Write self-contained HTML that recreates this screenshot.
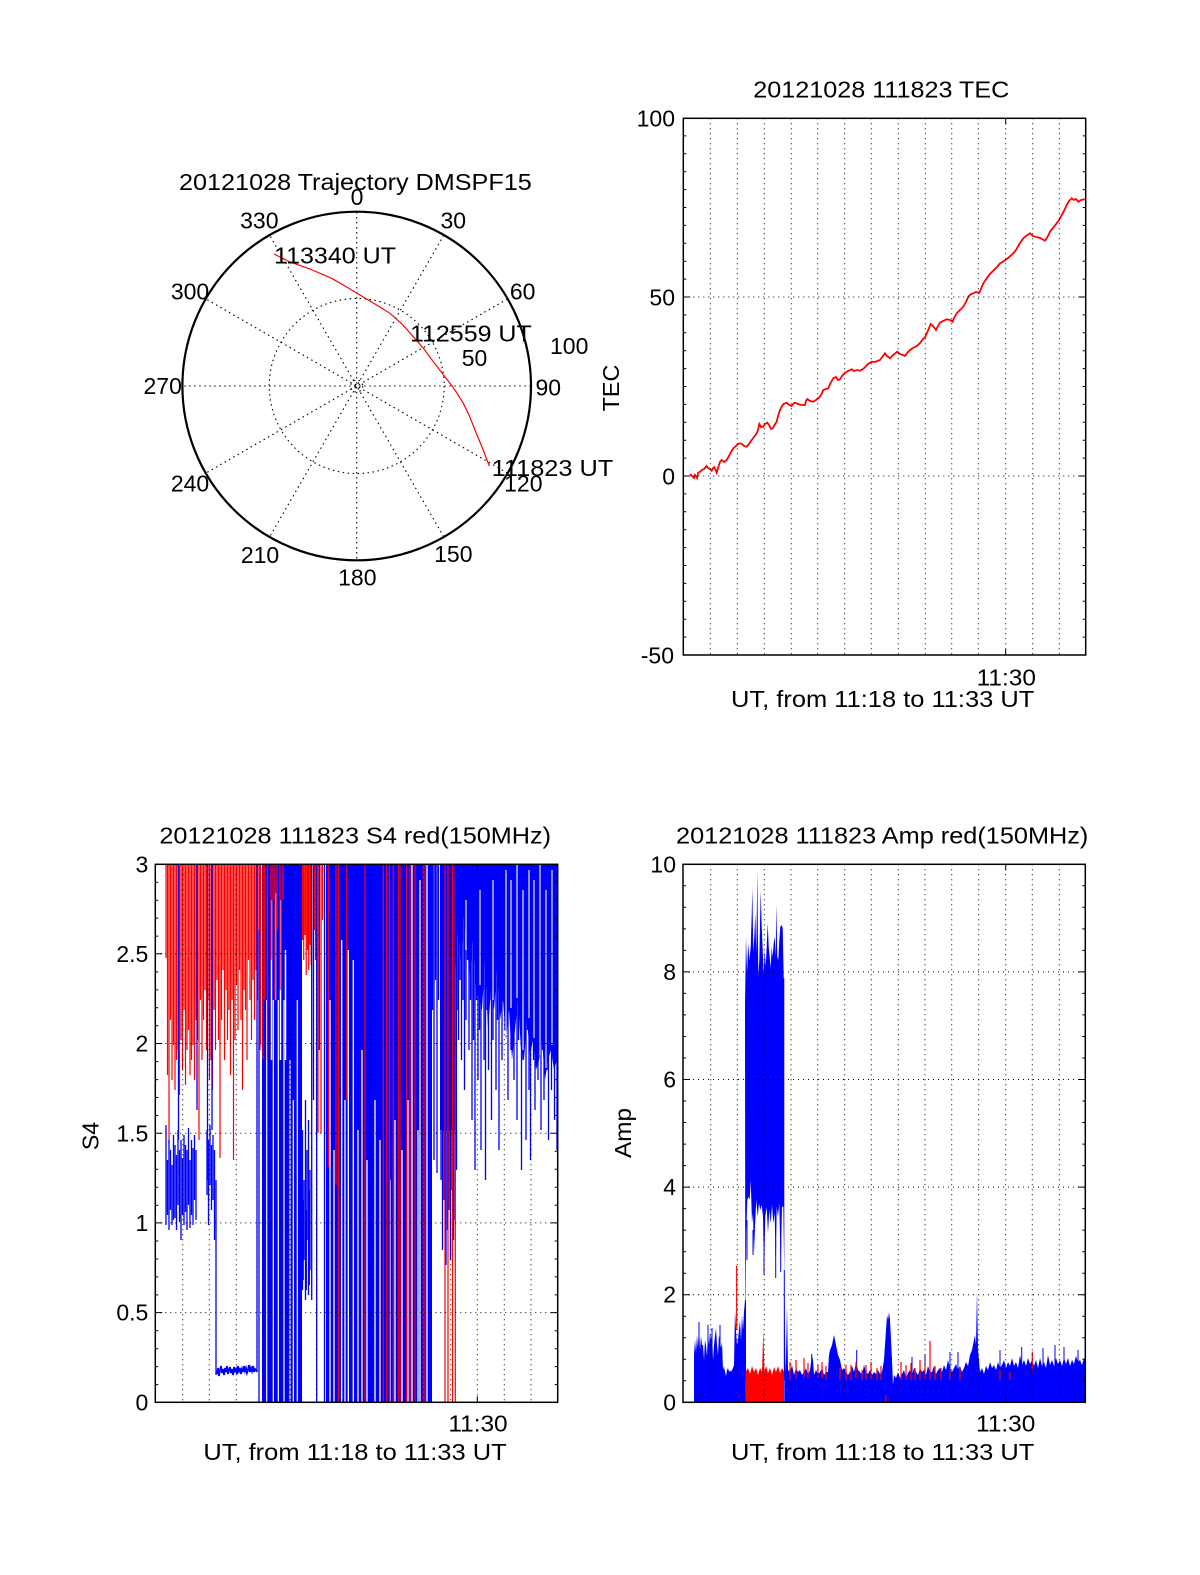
<!DOCTYPE html>
<html><head><meta charset="utf-8"><style>
html,body{margin:0;padding:0;background:#fff;}
svg{display:block;}
text{font-family:"Liberation Sans",Arial,sans-serif;font-size:23px;fill:#000;}
</style></head><body>
<svg width="1200" height="1575" viewBox="0 0 1200 1575" xmlns="http://www.w3.org/2000/svg">
<rect width="1200" height="1575" fill="#fff"/>
<defs>
<clipPath id="cS4"><rect x="155.3" y="864.3" width="402.4" height="538"/></clipPath>
<clipPath id="cAmp"><rect x="683" y="864.3" width="402.3" height="538"/></clipPath>
<clipPath id="cTEC"><rect x="683.3" y="118.3" width="402.4" height="536.7"/></clipPath>
</defs>

<!-- ============ POLAR ============ -->
<g fill="none" stroke="#000" stroke-width="1.1" stroke-dasharray="1.5 3.5">
<path d="M356.7 212V560M443.7 235.3L269.7 536.7M507.4 299L206 473M530.7 386H182.7M507.4 473L206 299M443.7 536.7L269.7 235.3"/>
<circle cx="356.7" cy="386" r="87.5"/>
<circle cx="356.7" cy="386" r="6"/>
</g>
<circle cx="356.7" cy="386" r="174.3" fill="none" stroke="#000" stroke-width="2.2"/>
<polyline fill="none" stroke="#f00" stroke-width="1.2" points="274,254 290,262 310,269 331.7,278.3 345,286 360,295 375,304 390,313.3 402,324 413.3,336.7 424,349 433.3,361.7 442,373 450,383.3 457,393 463.3,403.3 469,415 475,430 482,447 489.3,466"/>
<text x="355.4" y="190" text-anchor="middle" textLength="352.7" lengthAdjust="spacingAndGlyphs">20121028 Trajectory DMSPF15</text>
<g text-anchor="middle">
<text x="357" y="205">0</text>
<text x="453.3" y="228.7">30</text>
<text x="522.7" y="299.7">60</text>
<text x="548.3" y="395.3">90</text>
<text x="523.3" y="491.3">120</text>
<text x="453.3" y="562">150</text>
<text x="357.3" y="585.3">180</text>
<text x="260" y="563">210</text>
<text x="190" y="491.3">240</text>
<text x="162.7" y="394">270</text>
<text x="190" y="299.7">300</text>
<text x="259.3" y="228.7">330</text>
</g>
<text x="274" y="263.3" textLength="122" lengthAdjust="spacingAndGlyphs">113340 UT</text>
<text x="410" y="341.7" textLength="121.7" lengthAdjust="spacingAndGlyphs">112559 UT</text>
<text x="491.7" y="476" textLength="121.6" lengthAdjust="spacingAndGlyphs">111823 UT</text>
<text x="461.7" y="366">50</text>
<text x="550" y="354">100</text>

<!-- ============ TEC ============ -->
<g clip-path="url(#cTEC)">
<polyline fill="none" stroke="#f00" stroke-width="1.8" points="690,474 692,476 694,478 695,475 697,478 698,473 700,471.7 702,470 704,469 706.7,466 708,468 710,469 711.7,470.7 713,468 714.3,467.3 715.5,470 716.7,472.7 718,468 720,462 721.7,460 724,462 726.7,460 729,456 731,452 733.3,448.3 736,446 738,444 740,443.3 742,444 744,446 746.7,446.7 749,444 751.7,440 754,437 756.7,433.3 758,430 759.3,424 761,427 763.3,426.7 765,424 767.3,422.7 769,425 771,429 772.7,428.3 774.5,425 776.7,421.7 778,416 780,410 781.7,406.7 783.5,404 786.7,402.7 789,405 791.7,406 793,404 795,402.7 798,404 801,405 805,405 806,401 807.3,399 810,401 813.3,401.7 816,400 820,396.7 822,393 823.3,390 826,389 828.3,388.3 830,384 833.3,378.3 836,377 838,380 840,379.3 842,376 845,372.7 848,371 851.7,369.3 854,371 857,370 860,370.7 863,369 865,367.3 868,364 871.7,361.7 875,362 880,360 883,356 885,353.3 887,356 890,358.3 893,355 897.3,351.7 900,354 903,355 905,356 908,352 910,350 913,348 916.7,346 920,343 923,339 925,337.3 927,333 930.7,324 933,326 936,330 938,326 940,322.7 943,321 946.7,319.3 950,320 952.7,321.7 954,318 956.7,313.3 960,310 963.3,306.7 966,302 968.3,296.7 971,294 973.3,293.3 976,292 979.3,292.7 981,289 983.3,283.3 986.7,278.3 990,274 994,270 997,267 1000,263.3 1004,261 1008,258 1013.3,253.3 1016,250 1020,243 1023.3,238.3 1026,236 1030,233.3 1033,236 1035,236.7 1040,238 1045,240.7 1048,236 1050,231.7 1053,228 1056.7,223.3 1059,220 1061.7,215 1064,211 1066.7,205 1069,201 1071.7,198.3 1074,200 1076,199 1078.3,201.7 1081,200 1085,199.3"/>
</g>
<g fill="none" stroke="#000" stroke-width="1" stroke-dasharray="1 4">
<path d="M710.3 118.3V655M737.3 118.3V655M764.3 118.3V655M791.3 118.3V655M817.7 118.3V655M844.7 118.3V655M871.3 118.3V655M898.3 118.3V655M925.3 118.3V655M951.7 118.3V655M978.3 118.3V655M1005.7 118.3V655M1032.7 118.3V655M1059.3 118.3V655M683.3 297H1085.7M683.3 476H1085.7"/>
</g>
<g fill="none" stroke="#000" stroke-width="1">
<path d="M683.3 135.9h3M683.3 153.8h3M683.3 171.7h3M683.3 189.6h3M683.3 207.5h3M683.3 225.4h3M683.3 243.3h3M683.3 261.2h3M683.3 279.1h3M683.3 297h7M683.3 314.9h3M683.3 332.8h3M683.3 350.7h3M683.3 368.6h3M683.3 386.5h3M683.3 404.4h3M683.3 422.3h3M683.3 440.2h3M683.3 458.1h3M683.3 476h7M683.3 493.9h3M683.3 511.8h3M683.3 529.7h3M683.3 547.6h3M683.3 565.5h3M683.3 583.4h3M683.3 601.3h3M683.3 619.2h3M683.3 637.1h3"/>
<path d="M1085.7 135.9h-3M1085.7 153.8h-3M1085.7 171.7h-3M1085.7 189.6h-3M1085.7 207.5h-3M1085.7 225.4h-3M1085.7 243.3h-3M1085.7 261.2h-3M1085.7 279.1h-3M1085.7 297h-7M1085.7 314.9h-3M1085.7 332.8h-3M1085.7 350.7h-3M1085.7 368.6h-3M1085.7 386.5h-3M1085.7 404.4h-3M1085.7 422.3h-3M1085.7 440.2h-3M1085.7 458.1h-3M1085.7 476h-7M1085.7 493.9h-3M1085.7 511.8h-3M1085.7 529.7h-3M1085.7 547.6h-3M1085.7 565.5h-3M1085.7 583.4h-3M1085.7 601.3h-3M1085.7 619.2h-3M1085.7 637.1h-3"/>
<path d="M1005.7 118.3v6M1005.7 655v-6"/>
</g>
<rect x="683.3" y="118.3" width="402.4" height="536.7" fill="none" stroke="#000" stroke-width="1.5"/>
<text x="881.3" y="97.3" text-anchor="middle" textLength="256" lengthAdjust="spacingAndGlyphs">20121028 111823 TEC</text>
<g text-anchor="end">
<text x="675" y="126.5">100</text>
<text x="675" y="305.5">50</text>
<text x="675" y="484.5">0</text>
<text x="674" y="663.5">-50</text>
</g>
<text x="1006.3" y="685.5" text-anchor="middle" textLength="59.3" lengthAdjust="spacingAndGlyphs">11:30</text>
<text x="882.7" y="707" text-anchor="middle" textLength="303.3" lengthAdjust="spacingAndGlyphs">UT, from 11:18 to 11:33 UT</text>
<text transform="translate(619,388) rotate(-90)" text-anchor="middle" textLength="46.7" lengthAdjust="spacingAndGlyphs">TEC</text>

<!-- ============ S4 ============ -->
<g clip-path="url(#cS4)" fill="none">
<path stroke="#f00" stroke-width="1.2" d="M166 864V958M167.5 864V1075M169 864V1143M170.5 864V1020M172 864V1080M173.5 864V1045M175 864V1090M176.5 864V1060M178 864V1050M179.5 864V1095M181 864V1040M182.5 864V1070M184 864V1010M185.5 864V1085M187 864V1050M188.5 864V1030M190 864V1075M191.5 864V1060M193 864V1045M194.5 864V1080M196 864V1020M197.5 864V1040M199 864V1140M200.5 864V1000M202 864V1060M203.5 864V1020M205 864V990M206.5 864V1050M208 864V1000M209.5 864V1080M211 864V1060M212.5 864V1090M214 864V1010M215.5 864V1050M217 864V980M218.5 864V1040M220 864V1158M221.5 864V1020M223 864V970M224.5 864V1060M226 864V990M227.5 864V1040M229 864V1010M230.5 864V1075M232 864V1000M233.5 864V1160M235 864V1040M236.5 864V985M238 864V1030M239.5 864V970M241 864V1020M242.5 864V1090M244 864V990M245.5 864V1010M247 864V1060M248.5 864V960M250 864V1000M251.5 864V1040M253 864V980M254.5 864V1020M256 864V970M257.5 864V1000M259 864V990M260.5 864V1043"/>
<path stroke="#00f" stroke-width="1.3" d="M178.5 864V1140M197 864V1110M207.5 864V1180M212 864V1130"/>
<path stroke="#00f" stroke-width="1.3" d="M166 1125V1225M167.5 1160V1215M169 1140V1230M170.5 1150V1210M172 1165V1225M173.5 1135V1220M175 1145V1218M176.5 1155V1230M178 1130V1205M179.5 1150V1222M181 1140V1240M182.5 1158V1215M184 1135V1225M185.5 1145V1212M187 1150V1230M188.5 1128V1205M190 1160V1228M191.5 1140V1215M193 1148V1225M194.5 1135V1200M196 1150V1220M207 1130V1195M208.5 1140V1225M210 1125V1185M211.5 1145V1210M213 1135V1200M214.5 1150V1240M216 1180V1375"/>
<polyline stroke="#00f" stroke-width="1.8" points="217,1374 218,1368 219,1376 220,1370 221,1366 222,1373 223,1369 224,1375 225,1368 226,1372 227,1366 228,1374 229,1370 230,1367 231,1373 232,1369 233,1375 234,1367 235,1371 236,1369 237,1374 238,1366 239,1371 240,1368 241,1374 242,1369 243,1372 244,1366 245,1371 246,1368 247,1373 248,1370 249,1365 250,1372 251,1368 252,1371 253,1366 254,1372 255,1369 256,1370 257,1372"/>
<path stroke="#00f" stroke-width="1.3" d="M257 864V1372M259 930V1402"/>
<rect x="262" y="864.3" width="40" height="538" fill="#00f"/>
<path stroke="#fff" stroke-width="1.2" d="M266.7 1000V1402M273.3 1000V1402M278.3 1000V1402M284 1000V1402M290 1060V1402M293.3 1100V1402M297.3 1000V1402"/>
<path stroke="#fff" stroke-width="1.5" d="M271.5 900V1060M275.5 893V1000M280.5 900V1060M285.5 950V1060"/>
<path stroke="#f00" stroke-width="1.3" d="M260 864V1050M263 864V1060M264.5 864V1000M267.5 864V1060M271 864V960M273 864V900M275 864V1000M277 864V930M280 864V990M283 864V900"/>
<path stroke="#f00" stroke-width="1.2" d="M302.5 864V940M303.7 864V960M305 864V935M306.2 864V975M307.5 864V950M308.7 864V970M310 864V945M311.2 864V965"/>
<path stroke="#00f" stroke-width="1.3" d="M302.5 1130V1290M303.2 1200V1280M304 1180V1260M305.5 1100V1300M306.3 1210V1290M307 1150V1240M308.5 1120V1295M309.3 1190V1285M310 1170V1270M311.7 864V1300"/>
<path stroke="#00f" stroke-width="1.3" d="M316.7 864V1402M313.5 864V1100M319.3 864V1050M324.5 864V1402"/>
<path stroke="#f00" stroke-width="1.2" d="M314.5 864V930M315.5 864V960M318 864V1133M321 864V1133M322.5 864V920"/>
<rect x="326" y="864.3" width="106" height="538" fill="#00f"/>
<path stroke="#fff" stroke-width="1.3" d="M330 1000V1402M334 1150V1402M341.7 940V1402M345 1100V1402M348.3 950V1402M353.3 960V1402M358 1130V1402M362 1050V1402M367 1160V1402M375 1100V1402M380 1140V1402M390 1180V1402M395 1120V1402M402 1150V1402M408 1100V1402M412 864V1402M418 1130V1402M420 880V1402M427 864V1402"/>
<path stroke="#f00" stroke-width="1.2" d="M328.3 864V1167M336 864V1185M338.3 864V1402M346.7 864V1100M365 864V1402M383.3 864V1402M386.7 864V1402M389.5 864V1402M393.3 864V1402M398.3 864V1402M400 864V1402M406.7 864V1402M410 864V1402M415 864V1402M423.3 864V1402M425 864V1402"/>
<path stroke="#00f" stroke-width="1.3" d="M432.5 864V1010M434 864V1160M435.5 864V980M437 864V1173M438.5 864V1000"/>
<rect x="440" y="864.3" width="17" height="266" fill="#00f"/>
<path stroke="#00f" stroke-width="1.3" d="M441 1130V1180M442.5 1130V1250M444 1130V1200M446 1130V1265M447.5 1130V1230M449 1130V1210M450.5 1130V1260M452 1130V1190M453.5 1130V1240M455 1130V1220M456.5 1130V1170"/>
<path stroke="#f00" stroke-width="1.2" d="M445 864V1402M448 864V1402M452.5 864V1402M455.3 864V1402"/>
<!-- J -->
<polygon fill="#00f" points="455,864.3 557.7,864.3 557.7,1060 557,1060 554,1070 551,1050 548,1060 545,1080 542,1040 539,1060 536,1070 533,1040 530,1055 527,1020 524,1060 521,1050 518,1000 515,1030 512,1060 509,1010 506,1040 503,1000 500,1020 497,970 494,1010 491,990 488,1030 485,960 482,1010 479,1000 476,990 473,940 470,975 467,950 464,915 461,960 458,930 455,970"/>
<path stroke="#00f" stroke-width="1.3" d="M457 864V1010M458.5 864V1040M460 864V980M461.5 864V1060M463 864V1000M464.5 864V1090M466 864V1020M467.5 864V960M469 864V1050M470.5 864V1000M472 864V1120M473.5 864V1040M475 864V1170M476.5 864V1000M478 864V1080M479.5 864V1030M481 864V1150M482.5 864V990M484 864V1060M485.5 864V1180M487 864V1010M488.5 864V1070M490 864V1000M491.5 864V1120M493 864V1040M494.5 864V980M496 864V1090M497.5 864V1020M499 864V1150M500.5 864V1000M502 864V1060M503.5 864V940M505 864V1030M506.5 864V1000M508 864V1100M509.5 864V960M511 864V1050M512.5 864V1010M514 864V1080M515.5 864V980M517 864V1120M518.5 864V1040M520 864V1000M521.5 864V1170M523 864V1060M524.5 864V1000M526 864V1140M527.5 864V1030M529 864V1090M530.5 864V1160M532 864V1000M533.5 864V1060M535 864V1110M536.5 864V1020M538 864V1080M539.5 864V1000M541 864V1130M542.5 864V1050M544 864V1100M545.5 864V1020M547 864V1070M548.5 864V1140M550 864V1040M551.5 864V1090M553 864V1010M554.5 864V1120M556 864V1060M557 864V1150"/>
<path stroke="#fff" stroke-width="1.1" d="M466 900V950M480 890V985M493 880V1000M506 870V1035M511 880V1008M517 864V998M523 890V1050M529 870V1018M534 880V1038M540 864V1055M546 890V1068M552 870V1045"/>
</g>
<g fill="none" stroke="#000" stroke-width="1" stroke-dasharray="1 4">
<path d="M182.7 864.3V1402.3M209.3 864.3V1402.3M236.3 864.3V1402.3M263.3 864.3V1402.3M290 864.3V1402.3M316.7 864.3V1402.3M343.3 864.3V1402.3M370 864.3V1402.3M397 864.3V1402.3M423.7 864.3V1402.3M450.7 864.3V1402.3M477.3 864.3V1402.3M504.3 864.3V1402.3M531 864.3V1402.3M155.3 953.8H557.7M155.3 1043.5H557.7M155.3 1133.2H557.7M155.3 1222.9H557.7M155.3 1312.6H557.7"/>
</g>
<g fill="none" stroke="#000" stroke-width="1">
<path d="M155.3 882.2h3M155.3 900.2h3M155.3 918.1h3M155.3 936.1h3M155.3 953.8h7M155.3 971.9h3M155.3 989.9h3M155.3 1007.8h3M155.3 1025.8h3M155.3 1043.5h7M155.3 1061.6h3M155.3 1079.6h3M155.3 1097.5h3M155.3 1115.5h3M155.3 1133.2h7M155.3 1151.3h3M155.3 1169.3h3M155.3 1187.2h3M155.3 1205.2h3M155.3 1222.9h7M155.3 1241h3M155.3 1259h3M155.3 1276.9h3M155.3 1294.9h3M155.3 1312.6h7M155.3 1330.7h3M155.3 1348.7h3M155.3 1366.6h3M155.3 1384.6h3"/>
<path d="M557.7 882.2h-3M557.7 900.2h-3M557.7 918.1h-3M557.7 936.1h-3M557.7 953.8h-7M557.7 971.9h-3M557.7 989.9h-3M557.7 1007.8h-3M557.7 1025.8h-3M557.7 1043.5h-7M557.7 1061.6h-3M557.7 1079.6h-3M557.7 1097.5h-3M557.7 1115.5h-3M557.7 1133.2h-7M557.7 1151.3h-3M557.7 1169.3h-3M557.7 1187.2h-3M557.7 1205.2h-3M557.7 1222.9h-7M557.7 1241h-3M557.7 1259h-3M557.7 1276.9h-3M557.7 1294.9h-3M557.7 1312.6h-7M557.7 1330.7h-3M557.7 1348.7h-3M557.7 1366.6h-3M557.7 1384.6h-3"/>
<path d="M477.3 864.3v6M477.3 1402.3v-6"/>
</g>
<rect x="155.3" y="864.3" width="402.4" height="538" fill="none" stroke="#000" stroke-width="1.5"/>
<text x="355.2" y="843.3" text-anchor="middle" textLength="391.7" lengthAdjust="spacingAndGlyphs">20121028 111823 S4 red(150MHz)</text>
<g text-anchor="end">
<text x="148.3" y="872.5">3</text>
<text x="148.3" y="962">2.5</text>
<text x="148.3" y="1051.5">2</text>
<text x="148.3" y="1141.5">1.5</text>
<text x="148.3" y="1231">1</text>
<text x="148.3" y="1320.5">0.5</text>
<text x="148.3" y="1410.5">0</text>
</g>
<text x="478" y="1431.7" text-anchor="middle" textLength="59.3" lengthAdjust="spacingAndGlyphs">11:30</text>
<text x="355" y="1460" text-anchor="middle" textLength="303.3" lengthAdjust="spacingAndGlyphs">UT, from 11:18 to 11:33 UT</text>
<text transform="translate(98.3,1136) rotate(-90)" text-anchor="middle" textLength="28.3" lengthAdjust="spacingAndGlyphs">S4</text>

<!-- ============ AMP ============ -->
<g clip-path="url(#cAmp)">
<polygon fill="#00f" points="694,1402.3 694,1355 695,1340 696,1352 697,1335 698,1348 699,1323 700,1350 701,1336 702,1345 703,1345 704,1360 705,1340 706,1346 707,1356 708,1332 709,1345 710,1332 711,1340 712,1330 713,1360 714,1345 715,1336 716,1328 717,1345 718,1355 719,1335 720,1342 721,1348 722,1342 723,1370 724,1366 725,1372 726,1376 727,1370 728,1368 729,1372 730,1370 731,1372 732,1370 733,1368 734,1365 735,1310 736,1330 737,1345 738,1340 739,1330 740,1320 741,1340 742,1315 743,1330 744,1312 745,1300 745.5,1402.3"/>
<polygon fill="#00f" points="745,1005 746,936 747,973 748.3,943 749.3,960.7 750.7,946.7 751.7,915 752.3,887.7 753.3,951.7 754.3,936.7 755.3,914 756.3,953.3 757.3,870 758.3,976.7 759.3,960 760.7,890 761.7,926.7 762.7,950 763.7,975 764.7,950 765.7,966.7 766.7,946.7 767.7,922.7 768.7,946.7 769.7,956.7 770.7,968.3 771.7,946.7 772.7,956.7 773.7,943.3 774.7,936.7 775.7,956.7 776.3,904 777.3,956.7 778.3,960 779.3,940 780.3,926.7 781.7,925 782.7,928.3 783.7,978.3 784.3,978.3 784.3,1276.7 783.3,1206.7 782,1206.7 780.7,1270 779.3,1203.3 778,1216.7 776.7,1206.7 775.7,1275 774.7,1213.3 773.3,1223.3 772,1205 770.7,1223.3 769.3,1210 768,1233.3 766.7,1206.7 765.3,1216.7 764,1273.3 763,1216.7 761.7,1205 760.3,1210 759,1203.3 757.7,1216.7 756.3,1200 755,1226.7 754,1253.3 753,1213.3 752,1223.3 750.7,1180 749.7,1200 748.7,1196.7 747.3,1200 746.3,1230 745.3,1333.3"/>
<path fill="none" stroke="#00f" stroke-width="1" d="M745.5 1300V1380M747 1220V1260M753 1230V1255M764 1240V1275M775.7 1240V1278M780.7 1240V1272M784.3 1270V1380"/>
<polygon fill="#f00" points="745.5,1402.3 745.5,1372 748,1368 750,1374 752,1366 754,1372 756,1368 758,1375 760,1368 762,1372 763.3,1330 764.5,1372 766,1366 768,1373 770,1368 772,1375 774,1367 776,1372 778,1366 780,1373 782,1368 784,1372 784,1402.3"/>
<polygon fill="#00f" points="784.3,1402.3 784.3,1278 785.5,1372 786,1360 787,1306 788,1370 790,1372 792,1365 794,1375 796,1368 798,1372 800,1370 802,1375 804,1372 806,1368 808,1375 810,1370 812,1355 813,1360 814,1375 816,1370 818,1374 820,1372 822,1368 824,1375 826,1372 828,1372 829,1355 830,1350 832,1345 834,1335 836,1345 838,1355 840,1360 842,1370 844,1368 846,1372 848,1375 850,1372 852,1366 854,1372 856,1363 858,1370 860,1372 862,1375 864,1365 866,1372 868,1374 870,1370 872,1375 874,1372 876,1374 878,1370 880,1374 882,1372 884,1360 885,1345 886,1330 887,1315 888,1320 889,1312 890,1320 891,1340 892,1360 893,1385 894,1375 896,1378 898,1372 900,1378 902,1374 904,1370 906,1378 908,1373 910,1370 912,1375 914,1368 916,1372 918,1375 920,1368 922,1372 924,1370 926,1375 928,1366 930,1372 932,1372 934,1366 936,1374 938,1370 940,1368 942,1372 944,1365 946,1370 948,1360 950,1368 952,1372 954,1368 956,1364 958,1370 960,1366 962,1372 964,1368 966,1362 968,1366 970,1355 972,1350 974,1340 975,1335 976,1345 977,1290 978,1350 979,1360 980,1372 982,1368 984,1374 986,1366 988,1370 990,1362 992,1368 994,1365 996,1370 998,1362 1000,1368 1002,1365 1004,1360 1006,1368 1008,1362 1010,1366 1012,1358 1014,1366 1016,1362 1018,1368 1020,1355 1022,1365 1024,1360 1026,1366 1028,1358 1030,1364 1032,1360 1034,1366 1036,1360 1038,1368 1040,1358 1042,1366 1044,1362 1046,1368 1048,1355 1050,1365 1052,1360 1054,1366 1056,1358 1058,1364 1060,1360 1062,1366 1064,1358 1066,1364 1068,1358 1070,1366 1072,1360 1074,1364 1076,1356 1078,1362 1080,1360 1082,1365 1084,1358 1085.3,1362 1085.3,1402.3"/>
<path fill="none" stroke="#00f" stroke-width="1" d="M699 1322V1350M708 1325V1350M712 1328V1350M720 1325V1345M811.7 1354V1380M856.7 1350V1380M912 1357V1380M925 1354V1380M950 1352V1380M958 1352V1380M1000 1350V1380M1021.7 1347V1380M1043 1348V1380M1055 1345V1380M1064 1347V1380M1078 1350V1380"/>
<path fill="none" stroke="#f00" stroke-width="1.2" d="M736.7 1265.7V1330M790 1362V1380M796 1360V1378M804 1358V1378M808 1363V1378M818 1365V1378M822 1362V1378M826 1366V1380M840 1368V1380M846 1365V1380M851 1365V1380M856 1362V1378M862 1370V1380M866 1365V1380M871 1362V1380M877 1368V1380M881 1366V1380M886 1395V1402M901 1362V1380M906 1365V1380M911 1363V1380M915 1368V1380M920 1360V1380M925 1364V1380M930 1340.7V1380M935 1366V1380M941 1368V1380M950 1370V1380M960 1368V1380M1000 1370V1380M1010 1372V1380M1032.3 1351.7V1370"/>
</g>
<g fill="none" stroke="#000" stroke-width="1" stroke-dasharray="1 4">
<path d="M710.7 864.3V1402.3M737.3 864.3V1402.3M764.3 864.3V1402.3M791 864.3V1402.3M817.7 864.3V1402.3M844.7 864.3V1402.3M871.3 864.3V1402.3M898.3 864.3V1402.3M925 864.3V1402.3M951.7 864.3V1402.3M978.7 864.3V1402.3M1005.7 864.3V1402.3M1032.3 864.3V1402.3M1059.3 864.3V1402.3M683 971.9H1085.3M683 1079.5H1085.3M683 1187.1H1085.3M683 1294.7H1085.3"/>
</g>
<g fill="none" stroke="#000" stroke-width="1">
<path d="M683 885.8h3M683 907.3h3M683 928.9h3M683 950.4h3M683 971.9h7M683 993.4h3M683 1014.9h3M683 1036.5h3M683 1058h3M683 1079.5h7M683 1101h3M683 1122.5h3M683 1144.1h3M683 1165.6h3M683 1187.1h7M683 1208.6h3M683 1230.1h3M683 1251.7h3M683 1273.2h3M683 1294.7h7M683 1316.2h3M683 1337.7h3M683 1359.3h3M683 1380.8h3"/>
<path d="M1085.3 885.8h-3M1085.3 907.3h-3M1085.3 928.9h-3M1085.3 950.4h-3M1085.3 971.9h-7M1085.3 993.4h-3M1085.3 1014.9h-3M1085.3 1036.5h-3M1085.3 1058h-3M1085.3 1079.5h-7M1085.3 1101h-3M1085.3 1122.5h-3M1085.3 1144.1h-3M1085.3 1165.6h-3M1085.3 1187.1h-7M1085.3 1208.6h-3M1085.3 1230.1h-3M1085.3 1251.7h-3M1085.3 1273.2h-3M1085.3 1294.7h-7M1085.3 1316.2h-3M1085.3 1337.7h-3M1085.3 1359.3h-3M1085.3 1380.8h-3"/>
<path d="M1005.7 864.3v6M1005.7 1402.3v-6"/>
</g>
<rect x="683" y="864.3" width="402.3" height="538" fill="none" stroke="#000" stroke-width="1.5"/>
<text x="882.2" y="843.3" text-anchor="middle" textLength="412.3" lengthAdjust="spacingAndGlyphs">20121028 111823 Amp red(150MHz)</text>
<g text-anchor="end">
<text x="676" y="872.5">10</text>
<text x="676" y="980">8</text>
<text x="676" y="1087.5">6</text>
<text x="676" y="1195">4</text>
<text x="676" y="1302.5">2</text>
<text x="676" y="1410.5">0</text>
</g>
<text x="1005.7" y="1431.7" text-anchor="middle" textLength="59.3" lengthAdjust="spacingAndGlyphs">11:30</text>
<text x="882.7" y="1460" text-anchor="middle" textLength="303.3" lengthAdjust="spacingAndGlyphs">UT, from 11:18 to 11:33 UT</text>
<text transform="translate(631,1133) rotate(-90)" text-anchor="middle" textLength="50" lengthAdjust="spacingAndGlyphs">Amp</text>
</svg>
</body></html>
